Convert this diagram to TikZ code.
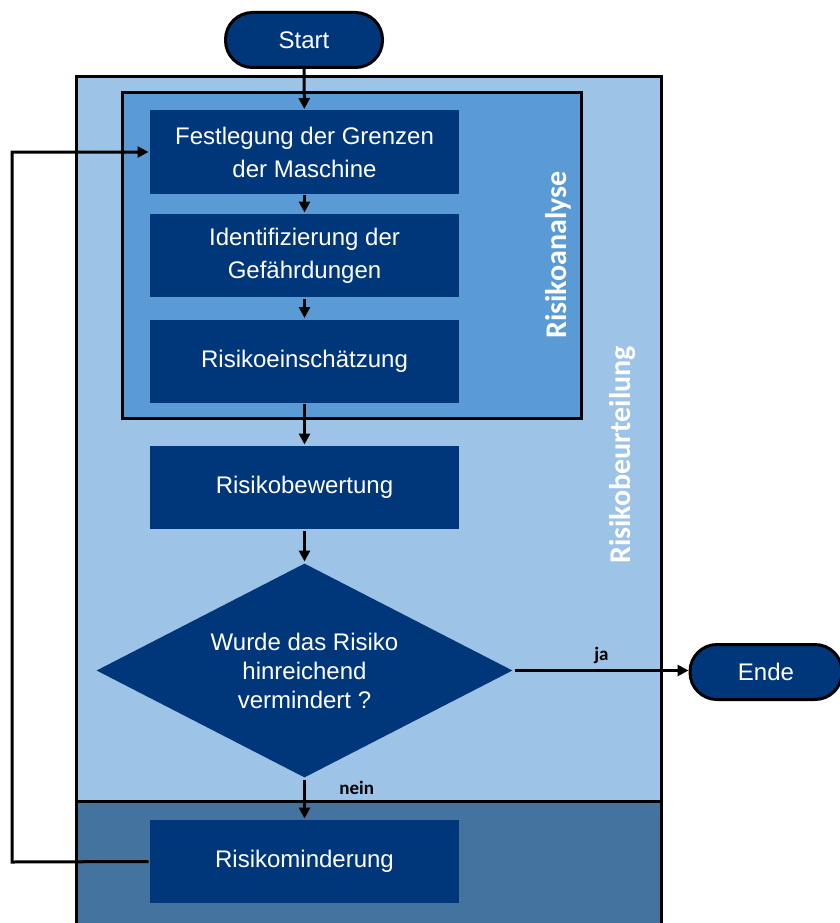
\documentclass[tikz,border=0pt]{standalone}
\usepackage{fontspec}
\setmainfont{Liberation Sans}
\newfontfamily\labelfont{Carlito}
\usetikzlibrary{arrows.meta,shapes.geometric}

\definecolor{navy}{HTML}{00377A}
\definecolor{hellblau}{HTML}{9DC3E6}
\definecolor{mittelblau}{HTML}{5B9BD5}
\definecolor{dunkelblau}{HTML}{44739F}

\begin{document}
\begin{tikzpicture}[x=1pt, y=-1pt, line width=3pt,
    proc/.style={rectangle, fill=navy, text=white, minimum width=309pt,
      minimum height=83pt, align=center, font=\fontsize{24}{33}\selectfont},
    term/.style={rectangle, rounded corners=27pt, draw=black, fill=navy,
      text=white, minimum height=55pt, font=\fontsize{24}{30}\selectfont},
    frage/.style={diamond, fill=navy, text=white, inner sep=0pt, aspect=1.94,
      minimum width=417pt, minimum height=215pt, align=center,
      font=\fontsize{24}{29}\selectfont},
    arr/.style={-{Triangle[length=11pt,width=11pt]}, line width=3pt},
    gruppe/.style={rotate=90, text=white, font=\labelfont\bfseries\fontsize{30}{36}\selectfont},
    lbl/.style={font=\labelfont\bfseries\fontsize{19}{22}\selectfont}]

  \clip (0,0) rectangle (840,923);

  %% Rahmen
  \draw[fill=hellblau] (76,77) rectangle (661,801);
  \draw[fill=dunkelblau] (76,801) rectangle (661,940);
  \draw[fill=mittelblau] (122,93) rectangle (581,418);

  \node[gruppe] (ana) at (558,255) {Risikoanalyse};
  \node[gruppe] (beu) at (623,455) {Risikobeurteilung};

  %% Schritte
  \node[term, minimum width=157pt] (start) at (304,40) {Start};
  \node[proc] (grenz) at (304.5,152) {Festlegung der Grenzen\\der Maschine};
  \node[proc] (gefahr) at (304.5,255.5) {Identifizierung der\\Gef\"ahrdungen};
  \node[proc] (schaetz) at (304.5,361) {Risikoeinsch\"atzung};
  \node[proc] (bewert) at (304.5,487.5) {Risikobewertung};
  \node[frage] (frage) at (304.5,670.5) {Wurde das Risiko\\hinreichend\\vermindert ?};
  \node[proc] (mind) at (304.5,861.5) {Risikominderung};
  \node[term, minimum width=152pt] (ende) at (766,672) {Ende};

  \draw[arr] (start) -- (grenz);
  \draw[arr] (grenz) -- (gefahr);
  \draw[arr] (gefahr) -- (schaetz);
  \draw[arr] (schaetz) -- (bewert);
  \draw[arr] (bewert) -- (frage);
  \draw[arr] (frage.south) -- node[pos=0.22, anchor=west, xshift=30pt, lbl]{nein} (mind.north); %% nein
  \draw[arr] (frage.east) -- node[midway, above, yshift=2pt, lbl]{ja} (ende.west |- frage.east); %% ja

  \coordinate (zurueck) at (12,862);
  \draw[arr] (mind.west) -- (zurueck) |- (grenz.west); %% Schleife

\end{tikzpicture}
\end{document}
